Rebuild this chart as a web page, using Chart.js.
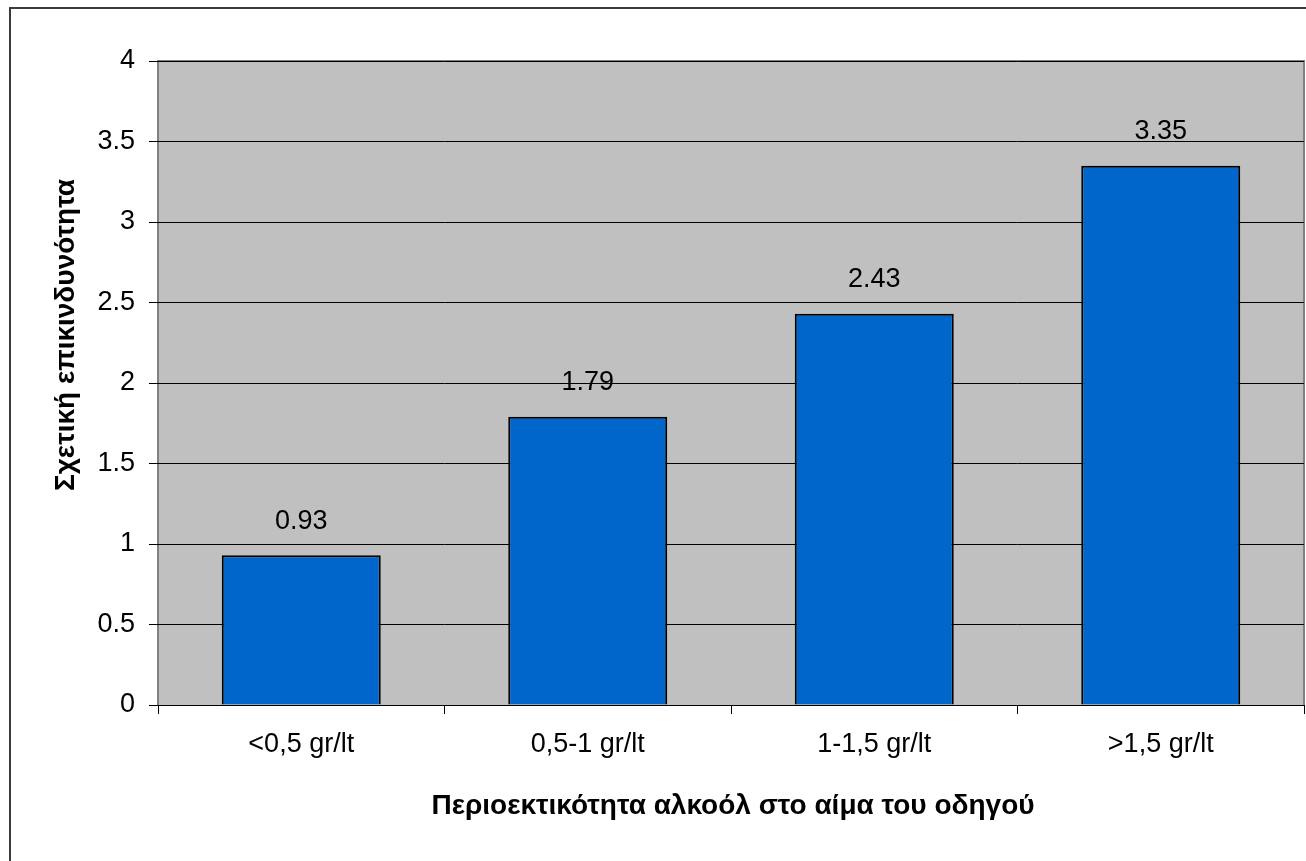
<!DOCTYPE html>
<html>
<head>
<meta charset="utf-8">
<script src="https://cdn.jsdelivr.net/npm/chart.js@4"></script>
<style>
  html, body { margin: 0; padding: 0; background: #fff; }
  #wrap { position: relative; width: 1306px; height: 861px; overflow: hidden; }
  #frame { position: absolute; left: 9px; top: 7px; width: 1400px; height: 900px;
           border-left: 2px solid #3a3a3a; border-top: 2px solid #3a3a3a; pointer-events: none; }
  canvas { position: absolute; left: 0; top: 0; }
</style>
</head>
<body>
<div id="wrap">
  <canvas id="c" width="1306" height="861"></canvas>
  <div id="frame"></div>
</div>
<script>
const categories = ['<0,5 gr/lt', '0,5-1 gr/lt', '1-1,5 gr/lt', '>1,5 gr/lt'];
const values = [0.93, 1.79, 2.43, 3.35];
const valueLabels = ['0.93', '1.79', '2.43', '3.35'];
const yTitle = 'Σχετική επικινδυνότητα';
const xTitle = 'Περιοεκτικότητα αλκοόλ στο αίμα του οδηγού';

const FONT = '"Liberation Sans", Arial, sans-serif';

const plotBg = {
  id: 'plotBg',
  beforeDraw(chart) {
    const { ctx, chartArea: a } = chart;
    ctx.save();
    ctx.fillStyle = '#c0c0c0';
    ctx.fillRect(a.left, a.top, a.right - a.left, a.bottom - a.top);
    ctx.strokeStyle = '#808080';
    ctx.lineWidth = 2;
    ctx.beginPath();
    ctx.moveTo(a.left, a.bottom);
    ctx.lineTo(a.left, a.top);
    ctx.lineTo(a.right, a.top);
    ctx.lineTo(a.right, a.bottom);
    ctx.stroke();
    ctx.restore();
  }
};

const extras = {
  id: 'extras',
  afterDatasetsDraw(chart) {
    const { ctx } = chart;
    const meta = chart.getDatasetMeta(0);
    ctx.save();
    ctx.fillStyle = '#000';
    ctx.font = '27px ' + FONT;
    ctx.textAlign = 'center';
    ctx.textBaseline = 'middle';
    meta.data.forEach((bar, i) => {
      ctx.fillText(valueLabels[i], bar.x, bar.y - 34);
    });
    // axis titles
    ctx.font = 'bold 28px ' + FONT;
    ctx.fillText(xTitle, 733, 806);
    ctx.translate(66, 335);
    ctx.rotate(-Math.PI / 2);
    ctx.fillText(yTitle, 0, 0);
    ctx.restore();
  }
};

new Chart(document.getElementById('c'), {
  type: 'bar',
  data: {
    labels: categories,
    datasets: [{
      data: values,
      backgroundColor: '#0066cc',
      borderColor: '#000000',
      borderWidth: 2,
      categoryPercentage: 1,
      barPercentage: 0.555
    }]
  },
  options: {
    responsive: false,
    animation: false,
    devicePixelRatio: 1,
    layout: { padding: { left: 0, top: 61, right: 2, bottom: 0 } },
    plugins: { legend: { display: false }, tooltip: { enabled: false } },
    scales: {
      x: {
        offset: true,
        border: { display: true, color: '#000', width: 1 },
        grid: { offset: true, drawOnChartArea: false, drawTicks: true, tickLength: 9, color: '#000' },
        ticks: { color: '#000', font: { family: FONT, size: 27 }, padding: 14, maxRotation: 0 },
        afterFit(s) { s.height = 156; }
      },
      y: {
        min: 0, max: 4,
        border: { display: false },
        grid: { color: '#000', lineWidth: 1, tickLength: 9, drawTicks: true },
        ticks: { stepSize: 0.5, color: '#000', font: { family: FONT, size: 27 }, padding: 14,
                 callback: v => String(v) },
        afterFit(s) { s.width = 158; }
      }
    }
  },
  plugins: [plotBg, extras]
});
</script>
</body>
</html>
